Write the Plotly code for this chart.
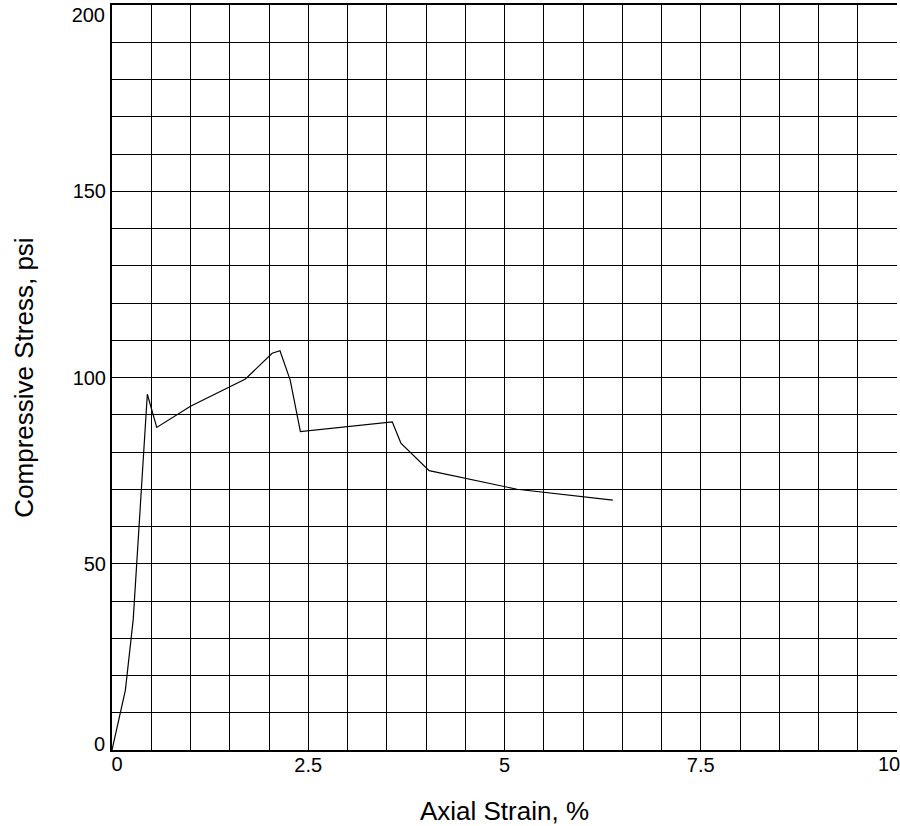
import plotly.graph_objects as go

strain = [0, 0.17, 0.27, 0.45, 0.57, 1.0, 1.7, 2.04, 2.14, 2.27, 2.40, 3.57, 3.68, 4.04, 5.16, 6.38]
stress = [0, 16, 35, 95.5, 86.6, 92.3, 99.6, 106.5, 107.2, 99.3, 85.5, 88.1, 82.4, 75, 70, 67.1]

x_range = [0, 10]
y_range = [0, 200]
x_mid_ticks = [2.5, 5, 7.5]
x_start_tick = [0]
x_end_tick = [10]
y_mid_ticks = [50, 100, 150]
y_start_tick = [0]
y_end_tick = [200]

fig = go.Figure()
fig.add_trace(go.Scatter(x=strain, y=stress, mode="lines",
                         line=dict(color="black", width=1.2), showlegend=False,
                         hoverinfo="skip"))
# empty traces so overlay axes (used only for shifted end labels) are drawn
fig.add_trace(go.Scatter(x=[], y=[], xaxis="x2", yaxis="y2", showlegend=False, hoverinfo="skip"))
fig.add_trace(go.Scatter(x=[], y=[], xaxis="x3", yaxis="y3", showlegend=False, hoverinfo="skip"))

font = "Liberation Sans, Arial, sans-serif"
tick_font = dict(size=20, family=font, color="black")
common_overlay = dict(showgrid=False, showline=False, zeroline=False, ticks="",
                      automargin=False, tickfont=tick_font, tickmode="array",
                      ticklabeloverflow="allow")

fig.update_layout(
    width=900, height=826,
    margin=dict(l=112, r=3, t=5, b=76),
    plot_bgcolor="white", paper_bgcolor="white",
    font=dict(family=font, color="black", size=20),
    xaxis=dict(
        range=x_range, tickmode="array", tickvals=x_mid_ticks,
        tickfont=tick_font, ticklabeloverflow="allow", ticklabelstandoff=-4,
        showgrid=True, gridcolor="black", gridwidth=1,
        showline=True, linecolor="black", linewidth=2, mirror=True,
        zeroline=False, ticks="", automargin=False,
        minor=dict(dtick=0.5, showgrid=True, gridcolor="black", gridwidth=1),
        title=dict(text="Axial Strain, %", font=dict(size=26), standoff=27),
    ),
    yaxis=dict(
        range=y_range, tickmode="array", tickvals=y_mid_ticks,
        tickfont=tick_font, ticklabeloverflow="allow",
        showgrid=True, gridcolor="black", gridwidth=1,
        showline=True, linecolor="black", linewidth=2, mirror=False,
        zeroline=False, ticks="", automargin=False,
        minor=dict(dtick=10, showgrid=True, gridcolor="black", gridwidth=1),
        title=dict(text="Compressive Stress, psi", font=dict(size=26), standoff=32),
    ),
    xaxis2=dict(common_overlay, range=x_range, tickvals=x_end_tick,
                overlaying="x", anchor="y", side="bottom",
                ticklabelshift=-8, ticklabelstandoff=0),
    xaxis3=dict(common_overlay, range=x_range, tickvals=x_start_tick,
                overlaying="x", anchor="y", side="bottom",
                ticklabelshift=5, ticklabelstandoff=0),
    yaxis2=dict(common_overlay, range=y_range, tickvals=y_end_tick,
                overlaying="y", anchor="x", side="left",
                ticklabelshift=10, ticklabelstandoff=6),
    yaxis3=dict(common_overlay, range=y_range, tickvals=y_start_tick,
                overlaying="y", anchor="x", side="left",
                ticklabelshift=-6, ticklabelstandoff=6),
)
fig.write_html("out.html")
